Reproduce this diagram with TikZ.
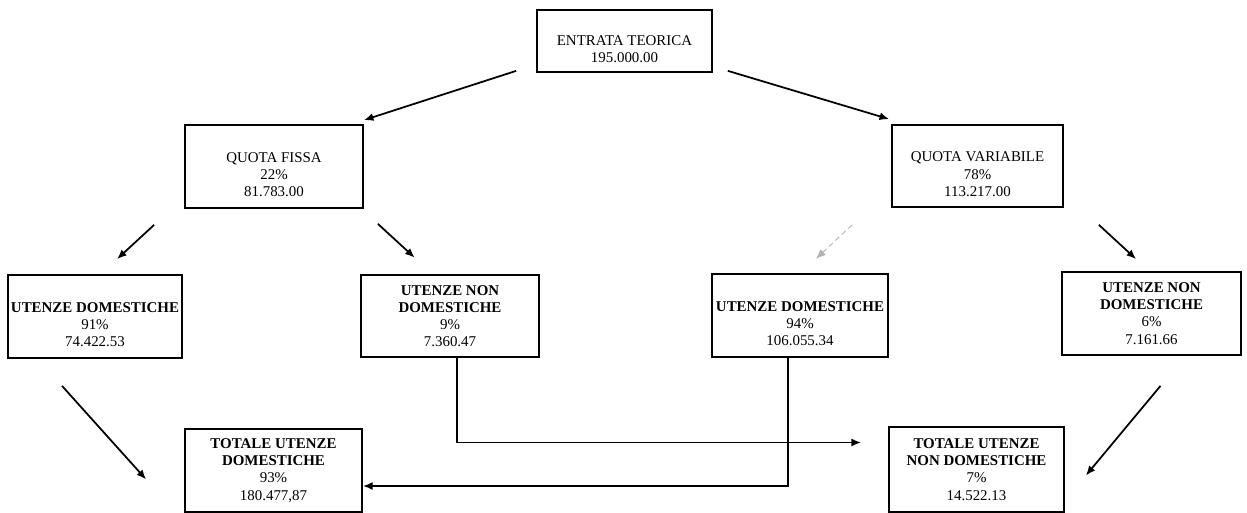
\documentclass[tikz,border=0pt]{standalone}
\usepackage{fontspec}
\setmainfont{Liberation Serif}
\usetikzlibrary{calc, arrows.meta}

\newcommand{\lowstart}{\rule{0pt}{15pt}}

\tikzset{
  box/.style={draw, line width=1pt, align=center, inner sep=1pt, font=\fontsize{8.5}{9.8}\selectfont},
  heavybox/.style={box, line width=1.5pt},
  arr/.style={-{Latex[length=5.5pt,width=4.5pt]}, line width=1pt},
  faintarr/.style={-{Latex[length=5.5pt,width=4.5pt]}, line width=0.5pt, gray!60, densely dashed},
}

\begin{document}
\begin{tikzpicture}[x=0.02cm, y=-0.02cm]
            \useasboundingbox (0,0) rectangle (1247,513);
            \node[box, minimum width=3.5cm, minimum height=1.24cm] (entrata) at (624.5,41) {\lowstart ENTRATA TEORICA\\195.000.00};
            \node[box, minimum width=3.56cm, minimum height=1.66cm] (fissa) at (274,166.5) {\lowstart QUOTA FISSA\\22\%\\81.783.00};
            \node[box, minimum width=3.42cm, minimum height=1.64cm] (variab) at (977.5,166) {\lowstart QUOTA VARIABILE\\78\%\\113.217.00};
            \node[box, minimum width=3.48cm, minimum height=1.66cm] (domF) at (95,316.5) {\lowstart\textbf{UTENZE DOMESTICHE}\\91\%\\74.422.53};
            \node[heavybox, minimum width=3.56cm, minimum height=1.64cm] (nondomF) at (450,316) {\textbf{UTENZE NON}\\\textbf{DOMESTICHE}\\9\%\\7.360.47};
            \node[heavybox, minimum width=3.52cm, minimum height=1.66cm] (domV) at (800,315.5) {\lowstart\textbf{UTENZE DOMESTICHE}\\94\%\\106.055.34};
            \node[box, minimum width=3.58cm, minimum height=1.66cm] (nondomV) at (1151.5,313.5) {\textbf{UTENZE NON}\\\textbf{DOMESTICHE}\\6\%\\7.161.66};
            \node[box, minimum width=3.54cm, minimum height=1.66cm] (totdom) at (273.5,470.5) {\textbf{TOTALE UTENZE}\\\textbf{DOMESTICHE}\\93\%\\180.477,87};
            \node[box, minimum width=3.5cm, minimum height=1.7cm] (totnondom) at (976.5,469.5) {\textbf{TOTALE UTENZE}\\\textbf{NON DOMESTICHE}\\7\%\\14.522.13};
            \coordinate (nondomIn) at ($(totnondom.west)+(-27,-27)$);
            \draw[arr] ($(entrata.south west)+(-20,-2)$) -- ($(fissa.north east)+(0,-4)$);
            \draw[arr] ($(entrata.south east)+(15,-2)$) -- ($(variab.north west)+(-2,-5)$);
            \draw[arr] ($(fissa.south west)+(-30,16)$) -- ($(domF.north)+(22,-15)$);
            \draw[arr] ($(fissa.south east)+(14,15)$) -- ($(nondomF.north west)+(55,-16)$);
            \draw[faintarr] ($(variab.south west)+(-39,17)$) -- ($(domV.north)+(16,-14)$);
            \draw[arr] ($(variab.south east)+(35,17)$) -- ($(nondomV.north west)+(75,-12)$);
            \draw[arr] ($(domF.south)+(-33,27)$) -- ($(totdom.west)+(-38,9)$);
            \draw[arr] ($(nondomV.south)+(9,30)$) -- ($(totnondom.east)+(21,6)$);
            \draw[arr] ($(nondomF.south)+(7,0)$) |- (nondomIn);
            \draw[arr] ($(domV.south)+(-12,0)$) |- ($(totdom.east)+(0,15.5)$);
        \end{tikzpicture}
\end{document}
